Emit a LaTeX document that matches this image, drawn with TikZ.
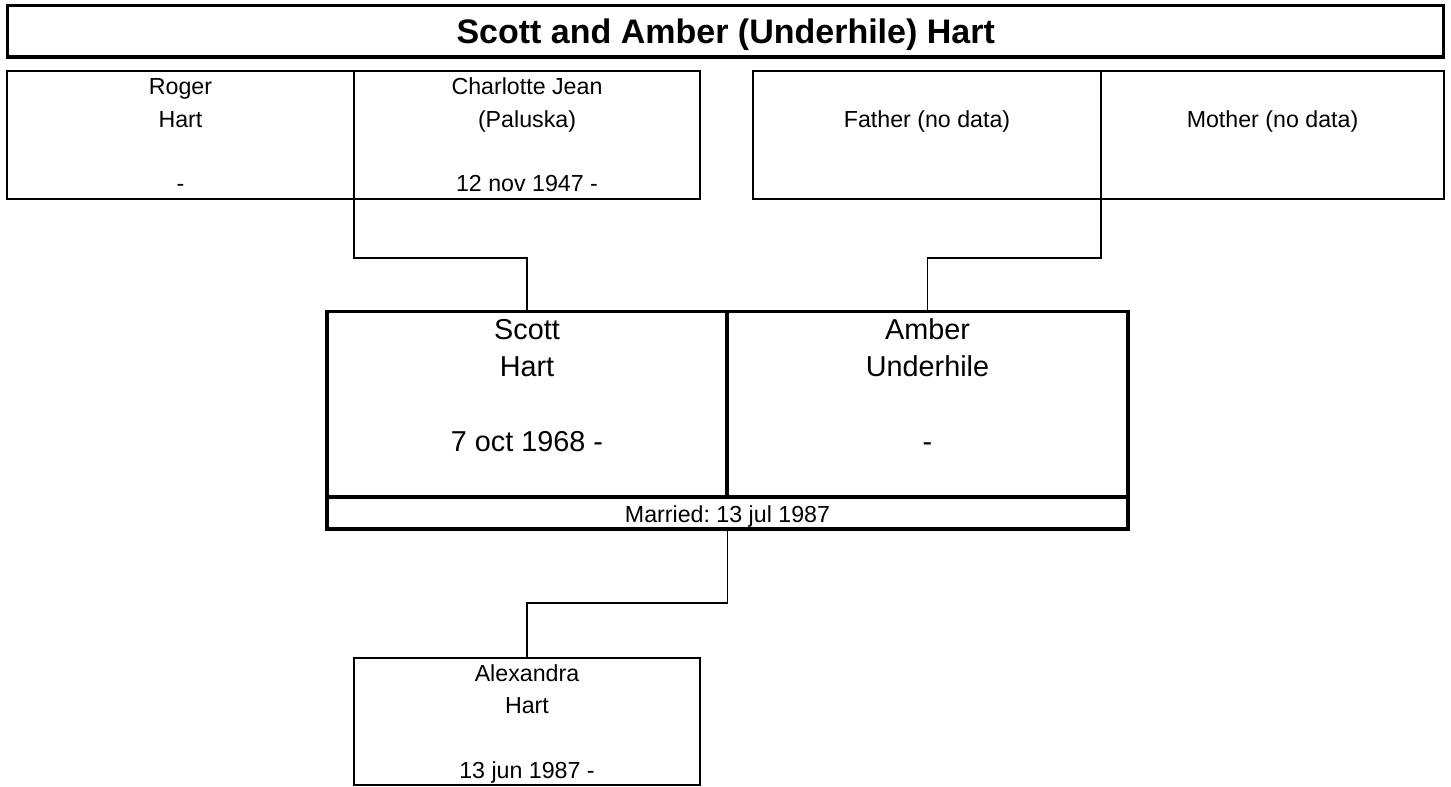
\documentclass[tikz,border=0pt]{standalone}
\usepackage{fontspec}
\setmainfont{Liberation Sans}
\frenchspacing
\begin{document}
\begin{tikzpicture}[x=1pt,y=-1pt,
  thinbox/.style={draw=black,line width=1.7pt,inner sep=0pt,outer sep=0pt,anchor=north west},
  thickbox/.style={draw=black,line width=3.3pt,inner sep=0pt,outer sep=0pt,anchor=north west},
  small/.style={font=\fontsize{23.2}{28}\selectfont,anchor=base,inner sep=0pt},
  big/.style={font=\fontsize{28.8}{34}\selectfont,anchor=base,inner sep=0pt},
  ttl/.style={font=\fontsize{34}{40}\selectfont\bfseries,anchor=base,inner sep=0pt},
  link/.style={draw=black,line width=1.7pt}]
\fill[white] (0,0) rectangle (1451,787);
\useasboundingbox (0,0) rectangle (1451,787);
% title
\node[thickbox,minimum width=1436,minimum height=51.5] (title) at (7.7,5.5) {};
\node[ttl] (titletext) at (725.7,43) {Scott and Amber (Underhile) Hart};
% grandparents
\node[thinbox,minimum width=347,minimum height=128] (roger) at (7,71) {};
\node[thinbox,minimum width=346,minimum height=128] (charlotte) at (354,71) {};
\node[thinbox,minimum width=348,minimum height=128] (father) at (753,71) {};
\node[thinbox,minimum width=343,minimum height=128] (mother) at (1101,71) {};
\node[small] (r1) at ([yshift=-23.5pt]roger.north) {Roger};
\node[small] (r2) at ([yshift=-56.5pt]roger.north) {Hart};
\node[small] (r3) at ([yshift=-120pt]roger.north) {-};
\node[small] (c1) at ([yshift=-23.5pt]charlotte.north) {Charlotte Jean};
\node[small] (c2) at ([yshift=-56.5pt]charlotte.north) {(Paluska)};
\node[small] (c3) at ([yshift=-120pt]charlotte.north) {12 nov 1947 -};
\node[small] (f1) at ([yshift=-56.5pt]father.north) {Father (no data)};
\node[small] (m1) at ([yshift=-56.5pt]mother.north) {Mother (no data)};
% couple
\node[thickbox,minimum width=400,minimum height=185.5] (scott) at (327,311.5) {};
\node[thickbox,minimum width=401,minimum height=185.5] (amber) at (727,311.5) {};
\node[thickbox,minimum width=801,minimum height=32] (married) at (327,497) {};
\node[big] (s1) at ([yshift=-28pt]scott.north) {Scott};
\node[big] (s2) at ([yshift=-65pt]scott.north) {Hart};
\node[big] (s3) at ([yshift=-140pt]scott.north) {7 oct 1968 -};
\node[big] (a1) at ([yshift=-28pt]amber.north) {Amber};
\node[big] (a2) at ([yshift=-65pt]amber.north) {Underhile};
\node[big] (a3) at ([yshift=-140pt]amber.north) {-};
\node[small] (mt) at ([yshift=-25pt]married.north) {Married: 13 jul 1987};
% child
\node[thinbox,minimum width=346,minimum height=127] (alex) at (354,658) {};
\node[small] (x1) at ([yshift=-23.5pt]alex.north) {Alexandra};
\node[small] (x2) at ([yshift=-55.5pt]alex.north) {Hart};
\node[small] (x3) at ([yshift=-120pt]alex.north) {13 jun 1987 -};
% connectors
\draw[link] (charlotte.south west) -- ++(0,59) -| (scott.north);
\draw[link] (mother.south west) -- ++(0,59) -| (amber.north);
\draw[link] (married.south) -- ++(0,74) -| (alex.north);
\end{tikzpicture}
\end{document}
